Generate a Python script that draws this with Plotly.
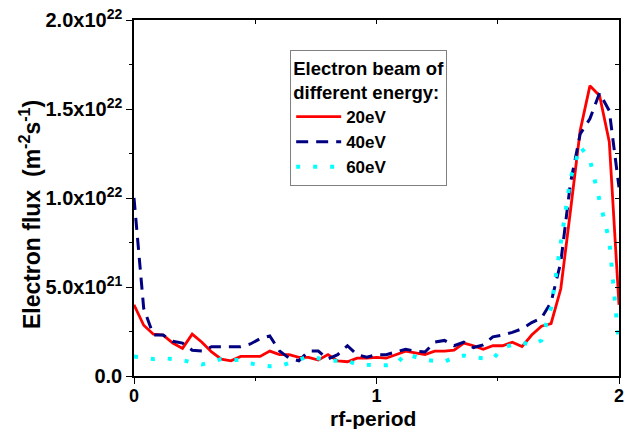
import plotly.graph_objects as go

# rf-period sample positions (0 .. 2, step 0.04)
rf_period = [round(0.04 * i, 2) for i in range(51)]

# Electron flux in units of 1e21 m^-2 s^-1
flux_20eV = [4.0, 2.85, 2.35, 2.3, 1.85, 1.55, 2.35, 1.9, 1.35, 0.95,
             0.85, 1.1, 1.1, 1.1, 1.4, 1.2, 1.2, 1.05, 1.05, 0.9,
             1.2, 0.85, 0.8, 1.0, 1.0, 1.05, 1.0, 1.2, 1.4, 1.3,
             1.2, 1.4, 1.4, 1.45, 1.85, 1.7, 1.5, 1.7, 1.7, 1.9,
             1.65, 2.3, 2.8, 2.95, 4.9, 9.3, 13.8, 16.3, 15.75, 13.15,
             4.0]
flux_40eV = [10.0, 3.8, 2.3, 2.3, 1.95, 1.85, 1.45, 1.4, 1.65, 1.65,
             1.65, 1.65, 1.8, 2.1, 2.25, 1.4, 1.0, 0.85, 1.4, 1.4,
             0.95, 1.2, 1.7, 1.2, 1.05, 1.2, 1.2, 1.35, 1.5, 1.4,
             1.35, 1.9, 2.0, 1.7, 1.9, 1.6, 1.75, 2.2, 2.3, 2.45,
             2.65, 3.0, 3.25, 4.15, 6.4, 10.85, 13.6, 14.45, 15.9, 14.9,
             10.6]
flux_60eV = [1.1, 1.0, 0.95, 1.0, 0.95, 0.9, 0.75, 0.65, 0.8, 0.95,
             0.9, 0.9, 0.7, 0.6, 0.55, 0.55, 0.75, 0.95, 1.1, 1.0,
             0.85, 0.85, 0.85, 0.65, 0.6, 0.6, 0.6, 0.65, 1.25, 1.1,
             0.9, 0.85, 0.8, 1.05, 1.15, 1.05, 1.0, 0.95, 1.6, 1.75,
             1.9, 1.7, 2.0, 3.85, 7.35, 11.1, 12.9, 12.15, 9.85, 7.6,
             1.75]

series_names = ["20eV", "40eV", "60eV"]

y_tickvals = [0, 5e21, 1e22, 1.5e22, 2e22]
y_ticktext = ["0.0", "5.0x10<sup>21</sup>", "1.0x10<sup>22</sup>",
              "1.5x10<sup>22</sup>", "2.0x10<sup>22</sup>"]
x_tickvals = [0, 1, 2]
x_ticktext = ["0", "1", "2"]

FONT = "Liberation Sans, Arial, sans-serif"

fig = go.Figure()
fig.add_trace(go.Scatter(x=rf_period, y=[v * 1e21 for v in flux_20eV],
                         mode="lines", name=series_names[0],
                         line=dict(color="#ff0000", width=2.8)))
fig.add_trace(go.Scatter(x=rf_period, y=[v * 1e21 for v in flux_40eV],
                         mode="lines", name=series_names[1],
                         line=dict(color="#000080", width=3, dash="12px,8px")))
fig.add_trace(go.Scatter(x=rf_period, y=[v * 1e21 for v in flux_60eV],
                         mode="lines", name=series_names[2],
                         line=dict(color="#00ffff", width=4, dash="4px,13px")))
# empty trace to activate the mirrored (top/right) frame axes
fig.add_trace(go.Scatter(x=[None], y=[None], xaxis="x2", yaxis="y2",
                         showlegend=False, hoverinfo="skip"))

fig.update_layout(
    width=641, height=429,
    margin=dict(l=134, r=22, t=20, b=53, autoexpand=False),
    paper_bgcolor="white", plot_bgcolor="white",
    font=dict(family=FONT, size=18, color="black", weight="bold"),
    showlegend=True,
    legend=dict(
        x=0.322, y=0.916, xanchor="left", yanchor="top",
        bgcolor="white", bordercolor="#808080", borderwidth=1,
        font=dict(family=FONT, size=17, color="black", weight="bold"),
        title=dict(text="Electron beam of<br>different energy:", side="top center",
                   font=dict(family=FONT, size=18.5, color="black", weight="bold")),
        itemwidth=45, tracegroupgap=0,
    ),
    xaxis=dict(
        range=[0, 2], tickmode="array", tickvals=x_tickvals, ticktext=x_ticktext,
        ticks="outside", ticklen=6, tickwidth=1.3, tickcolor="black",
        showline=True, linecolor="black", linewidth=1.5,
        showgrid=False, zeroline=False, automargin=False,
        ticklabelstandoff=-3,
        minor=dict(ticks="outside", ticklen=3, tickwidth=1.3, tickcolor="black",
                   tick0=0, dtick=0.5, showgrid=False),
        tickfont=dict(family=FONT, size=18, color="black", weight="bold"),
    ),
    yaxis=dict(
        range=[0, 2e22], tickmode="array", tickvals=y_tickvals, ticktext=y_ticktext,
        ticks="outside", ticklen=6, tickwidth=1.3, tickcolor="black",
        showline=True, linecolor="black", linewidth=1.5,
        showgrid=False, zeroline=False, automargin=False,
        minor=dict(ticks="outside", ticklen=3, tickwidth=1.3, tickcolor="black",
                   tick0=0, dtick=2.5e21, showgrid=False),
        tickfont=dict(family=FONT, size=20, color="black", weight="bold"),
    ),
    xaxis2=dict(
        overlaying="x", side="top", anchor="y2", range=[0, 2],
        tickmode="linear", tick0=0, dtick=0.5, ticks="inside", ticklen=4,
        tickwidth=1.3, tickcolor="black", showticklabels=False,
        showline=True, linecolor="black", linewidth=1.5,
        showgrid=False, zeroline=False, automargin=False,
    ),
    yaxis2=dict(
        overlaying="y", side="right", anchor="x2", range=[0, 2e22],
        tickmode="linear", tick0=0, dtick=2.5e21, ticks="inside", ticklen=4,
        tickwidth=1.3, tickcolor="black", showticklabels=False,
        showline=True, linecolor="black", linewidth=1.5,
        showgrid=False, zeroline=False, automargin=False,
    ),
    annotations=[
        dict(text="Electron flux  (m<sup>-2</sup>s<sup>-1</sup>)",
             xref="paper", yref="paper", x=-0.2144, y=0.452,
             xanchor="center", yanchor="middle", textangle=-90, showarrow=False,
             font=dict(family=FONT, size=23, color="black", weight="bold")),
        dict(text="rf-period",
             xref="paper", yref="paper", x=0.492, y=-0.119,
             xanchor="center", yanchor="middle", showarrow=False,
             font=dict(family=FONT, size=21, color="black", weight="bold")),
    ],
)

fig.write_html("out.html")
